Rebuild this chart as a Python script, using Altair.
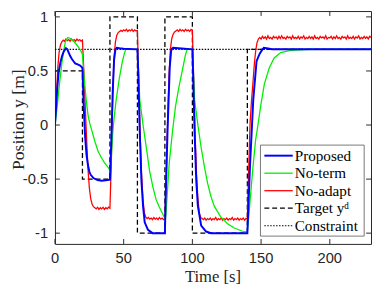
import altair as alt
import pandas as pd

# ---------------- data ----------------
x_ticks = [0, 50, 100, 150, 200]
x_tick_labels = ["0", "50", "100", "150", "200"]
y_ticks = [-1, -0.5, 0, 0.5, 1]
y_tick_labels = ["-1", "-0.5", "0", "0.5", "1"]

x_title = "Time [s]"
y_title = "Position y [m]"
legend_labels = ["Proposed", "No-term", "No-adapt", "Target yᵈ", "Constraint"]

constraint_t = [0, 230]
constraint_y = [0.7, 0.7]

target_t = [0, 20, 20, 40, 40, 60, 60, 80, 80, 100, 100, 140, 140, 230]
target_y = [0.5, 0.5, -0.5, -0.5, 1, 1, -1, -1, 1, 1, -1, -1, 0.7, 0.7]

blue_t = [0, 1, 1.7, 2.8, 4, 5.2, 6.4, 8, 9, 10, 11, 12.3, 13.5, 14.7, 16.5, 18.3, 19.5, 20,
          21, 22, 23, 24, 25, 26, 28, 31, 34, 37, 40, 41, 42, 43, 44, 45, 47, 50, 60,
          60.5, 61.7, 62.9, 64.1, 65.3, 67.7, 71, 80, 80.5, 81.9, 83.5, 84.5, 85, 86, 90, 100,
          100.4, 101.6, 102.8, 104, 106.4, 110, 113.5, 140, 140.6, 142, 144.3, 146.7, 148, 149,
          150.5, 152, 154, 158, 230]
blue_y = [0, 0.2, 0.35, 0.5, 0.58, 0.64, 0.68, 0.71, 0.7, 0.67, 0.64, 0.61, 0.59, 0.57, 0.56, 0.55, 0.535, 0.525,
          0.15, -0.12, -0.28, -0.37, -0.43, -0.46, -0.49, -0.51, -0.515, -0.51, -0.505, -0.15, 0.3, 0.6, 0.7, 0.715, 0.71, 0.705, 0.7,
          0.53, -0.06, -0.51, -0.75, -0.9, -0.97, -1.0, -1.0, -0.7, -0.06, 0.53, 0.68, 0.705, 0.715, 0.71, 0.7,
          0.53, -0.06, -0.51, -0.75, -0.93, -0.985, -1.0, -1.0, -0.8, -0.36, 0.235, 0.59, 0.63, 0.66,
          0.69, 0.715, 0.71, 0.7, 0.7]

green_t = [0, 1, 2, 2.8, 4, 5.2, 6.4, 7.6, 9.3, 10.5, 12.3, 14, 15.9, 17.7, 19.5, 20,
           20.7, 21.8, 23, 24.2, 25.4, 26.6, 29, 31.3, 33.7, 36.1, 38.5, 40.3,
           41, 42, 43, 44.4, 46.8, 49.1, 50.5, 51.5, 60,
           61.7, 64.1, 66.5, 68.8, 71.2, 73.6, 76, 79.5, 80.3,
           80.7, 83.1, 85.5, 87.8, 90.2, 92.6, 95, 96.2, 100,
           101.6, 104, 106.4, 108.8, 111.1, 113.5, 115.9, 120.6, 125.4, 130.1, 136, 140,
           141, 142, 143, 144, 145, 146, 147.7, 150, 152.4, 156, 159.5, 164.3, 171.4, 185.7, 230]
green_y = [0, 0.1, 0.22, 0.32, 0.46, 0.59, 0.69, 0.77, 0.81, 0.805, 0.79, 0.77, 0.74, 0.71, 0.67, 0.65,
           0.53, 0.35, 0.2, 0.08, 0.01, -0.04, -0.15, -0.24, -0.3, -0.35, -0.39, -0.42,
           -0.3, -0.08, 0.06, 0.22, 0.43, 0.59, 0.66, 0.7, 0.7,
           0.235, 0.0, -0.21, -0.42, -0.57, -0.69, -0.76, -0.85, -0.87,
           -0.84, -0.36, -0.06, 0.18, 0.35, 0.5, 0.65, 0.7, 0.7,
           0.235, 0.0, -0.21, -0.39, -0.54, -0.66, -0.75, -0.85, -0.91, -0.95, -0.98, -0.99,
           -0.85, -0.7, -0.55, -0.4, -0.27, -0.14, 0.0, 0.2, 0.38, 0.53, 0.62, 0.67, 0.69, 0.70, 0.7]

red_y = (
    [0.00, 0.25, 0.52, 0.67, 0.74, 0.77, 0.785, 0.775, 0.795, 0.78, 0.79, 0.775, 0.795, 0.78, 0.79,
     0.775, 0.795, 0.78, 0.79, 0.775, 0.785]
    + [0.50, 0.18, -0.12, -0.40, -0.58, -0.68, -0.73, -0.755, -0.765, -0.775, -0.76, -0.78, -0.765,
       -0.775, -0.76, -0.78, -0.765, -0.775, -0.76, -0.77]
    + [-0.35, 0.25, 0.62, 0.77, 0.83, 0.855, 0.865, 0.875, 0.865, 0.88, 0.87, 0.885, 0.865, 0.88,
       0.87, 0.885, 0.865, 0.88, 0.87, 0.875]
    + [0.40, -0.10, -0.45, -0.68, -0.81, -0.85, -0.865, -0.855, -0.87, -0.86, -0.875, -0.855, -0.87,
       -0.86, -0.875, -0.855, -0.87, -0.86, -0.875, -0.865]
    + [-0.45, 0.05, 0.45, 0.70, 0.80, 0.84, 0.86, 0.87, 0.88, 0.865, 0.885, 0.87, 0.88, 0.865, 0.885,
       0.87, 0.88, 0.865, 0.885, 0.875]
    + [0.40, -0.10, -0.45, -0.68, -0.81, -0.855,
       -0.865, -0.875, -0.86, -0.88, -0.865, -0.875, -0.86, -0.88, -0.865, -0.875, -0.855, -0.88,
       -0.865, -0.875, -0.86, -0.88, -0.865, -0.875, -0.86, -0.88, -0.865, -0.875, -0.855, -0.88,
       -0.865, -0.875, -0.86, -0.88, -0.865, -0.875, -0.86, -0.88, -0.865, -0.87]
    + [-0.40, 0.02, 0.22, 0.38, 0.55, 0.68, 0.76, 0.795]
    + [0.81, 0.795, 0.82, 0.80, 0.815, 0.795, 0.825, 0.80, 0.81, 0.795, 0.82, 0.805, 0.815, 0.795,
       0.82, 0.80, 0.825, 0.80, 0.81, 0.795,
       0.82, 0.805, 0.815, 0.795, 0.825, 0.80, 0.81, 0.80, 0.82, 0.795, 0.815, 0.805, 0.825, 0.795,
       0.81, 0.80, 0.82, 0.80, 0.815, 0.795,
       0.825, 0.80, 0.81, 0.795, 0.82, 0.805, 0.815, 0.80, 0.825, 0.795, 0.81, 0.805, 0.82, 0.795,
       0.815, 0.80, 0.825, 0.80, 0.81, 0.795,
       0.82, 0.805, 0.815, 0.795, 0.825, 0.80, 0.81, 0.80, 0.82, 0.795, 0.815, 0.805, 0.825, 0.795,
       0.81, 0.80, 0.82, 0.80, 0.815, 0.795, 0.82, 0.81]
)
red_t = list(range(len(red_y)))

# ---------------- styling ----------------
W, H = 323, 238
AX = "#262626"
SANS = "Liberation Sans"
SERIF = "Liberation Serif"

xscale = alt.Scale(domain=[0, 230], nice=False, zero=False)
yscale = alt.Scale(domain=[-1.0995, 1.054], nice=False, zero=False)


def X():
    return alt.X("t:Q", scale=xscale, axis=None)


def Y():
    return alt.Y("y:Q", scale=yscale, axis=None)


def series(ts, ys, color, width, dash=None):
    df = pd.DataFrame({"t": ts, "y": ys})
    kw = dict(color=color, strokeWidth=width, clip=True, interpolate="linear")
    if dash:
        kw["strokeDash"] = dash
    return alt.Chart(df).mark_line(**kw).encode(x=X(), y=Y())


styles = {
    "Proposed": dict(color="#0000ff", width=2.0),
    "No-term": dict(color="#00ee00", width=1.3),
    "No-adapt": dict(color="#ff0000", width=1.3),
    "Target yᵈ": dict(color="#000000", width=1.3, dash=[5, 3]),
    "Constraint": dict(color="#000000", width=1.2, dash=[1.5, 1.5]),
}

layers = [
    series(target_t, target_y, **styles["Target yᵈ"]),
    series(constraint_t, constraint_y, **styles["Constraint"]),
    series(red_t, red_y, **styles["No-adapt"]),
    series(green_t, green_y, **styles["No-term"]),
    series(blue_t, blue_y, **styles["Proposed"]),
]

# inward ticks (MATLAB style box)
xt = pd.DataFrame({"t": x_ticks, "lab": x_tick_labels})
yt = pd.DataFrame({"y": y_ticks, "lab": y_tick_labels})
tick_kw = dict(color=AX, strokeWidth=1)
layers += [
    alt.Chart(xt).mark_rule(**tick_kw).encode(x=X(), y=alt.value(H), y2=alt.value(H - 5)),
    alt.Chart(xt).mark_rule(**tick_kw).encode(x=X(), y=alt.value(0), y2=alt.value(5)),
    alt.Chart(yt).mark_rule(**tick_kw).encode(y=Y(), x=alt.value(0), x2=alt.value(5)),
    alt.Chart(yt).mark_rule(**tick_kw).encode(y=Y(), x=alt.value(W), x2=alt.value(W - 5)),
]

# tick labels and axis titles
layers += [
    alt.Chart(xt).mark_text(font=SANS, fontSize=15, color=AX, align="center", baseline="middle").encode(
        x=X(), y=alt.value(H + 15), text="lab:N"),
    alt.Chart(yt).mark_text(font=SANS, fontSize=15, color=AX, align="right", baseline="middle").encode(
        y=Y(), x=alt.value(-7), text="lab:N"),
    alt.Chart(pd.DataFrame({"lab": [x_title]})).mark_text(
        font=SERIF, fontSize=17, color=AX, align="center", baseline="alphabetic").encode(
        x=alt.value(W / 2), y=alt.value(H + 38.5), text="lab:N"),
    alt.Chart(pd.DataFrame({"lab": [y_title]})).mark_text(
        font=SERIF, fontSize=18, color=AX, align="center", baseline="alphabetic", angle=270).encode(
        x=alt.value(-31.5), y=alt.value(111), text="lab:N"),
]

# legend box
one = pd.DataFrame({"k": [0]})
layers.append(
    alt.Chart(one).mark_rect(fill="white", stroke="#555555", strokeWidth=0.8).encode(
        x=alt.value(210), x2=alt.value(316), y=alt.value(137), y2=alt.value(230))
)
row_y = [147.8, 165.7, 183.6, 201.5, 219.4]
for lab, yy in zip(legend_labels, row_y):
    st = styles[lab]
    rk = dict(color=st["color"], strokeWidth=st["width"])
    if "dash" in st:
        rk["strokeDash"] = st["dash"]
    layers.append(alt.Chart(one).mark_rule(**rk).encode(
        x=alt.value(214), x2=alt.value(243), y=alt.value(yy)))
    layers.append(alt.Chart(pd.DataFrame({"label": [lab]})).mark_text(
        font=SERIF, fontSize=15.5, color="#000000", align="left", baseline="middle").encode(
        x=alt.value(245), y=alt.value(yy), text="label:N"))

chart = alt.layer(*layers).properties(
    width=W, height=H,
    padding={"left": 48, "top": 0, "right": 1, "bottom": 45},
    autosize=alt.AutoSizeParams(type="none"),
    background="white",
).configure_view(stroke=AX, strokeWidth=1)

chart.save("out.html", embed_options={"renderer": "svg", "actions": False})
